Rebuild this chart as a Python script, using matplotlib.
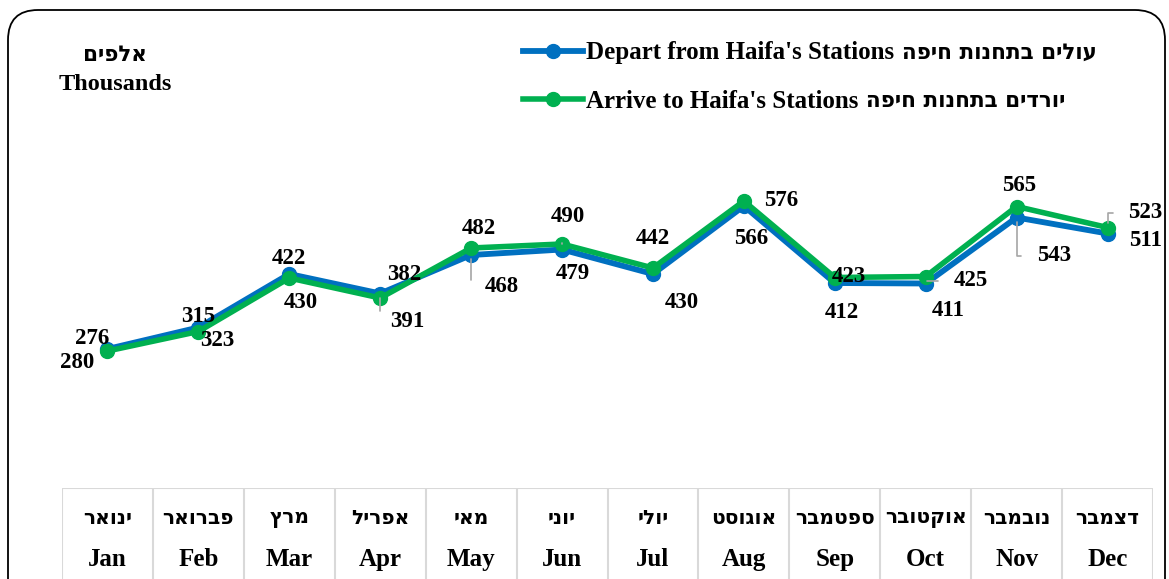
import matplotlib.pyplot as plt
from matplotlib.patches import FancyBboxPatch

plt.rcParams['font.family'] = ['Liberation Serif', 'DejaVu Sans']
plt.rcParams['font.weight'] = 'bold'
HEB = ['DejaVu Sans']

months_en = ["Jan", "Feb", "Mar", "Apr", "May", "Jun",
             "Jul", "Aug", "Sep", "Oct", "Nov", "Dec"]
months_he = ["ינואר", "פברואר", "מרץ", "אפריל", "מאי", "יוני",
             "יולי", "אוגוסט", "ספטמבר", "אוקטובר", "נובמבר", "דצמבר"]
depart = [280, 323, 430, 391, 468, 479, 430, 566, 412, 411, 543, 511]
arrive = [276, 315, 422, 382, 482, 490, 442, 576, 423, 425, 565, 523]
depart_name = ("Depart from Haifa's Stations", "עולים בתחנות חיפה")
arrive_name = ("Arrive to Haifa's Stations", "יורדים בתחנות חיפה")

# label offsets in pixels (dx, dy) and whether a leader line is drawn
depart_off = [(-30, -14), (19, -13), (12, -28), (27, -28), (31, -31), (11, -24),
              (29, -29), (7, -32), (7, -30), (22, -27), (37, -38), (38, -7)]
depart_lead = [0, 0, 0, 1, 1, 0, 0, 0, 0, 0, 1, 0]
arrive_off = [(-15, 12), (0, 15), (0, 19), (24, 23), (8, 19), (6, 27),
              (0, 30), (37, 0), (14, 1), (45, -4), (3, 21), (38, 15)]
arrive_lead = [0, 0, 0, 0, 0, 1, 1, 0, 0, 1, 0, 1]

W, H = 1169, 579
fig = plt.figure(figsize=(W / 100, H / 100), dpi=100)


def vis(s):
    return s[::-1]


border = FancyBboxPatch((0.08, -0.4), 11.57, 6.09,
                        boxstyle="round,pad=0,rounding_size=0.3",
                        transform=fig.dpi_scale_trans, fill=False,
                        edgecolor='black', linewidth=1.3)
fig.patches.append(border)

ax = fig.add_axes([62 / W, 1 - 489 / H, 1091 / W, 350 / H])
ax.set_xlim(-0.5, 11.5)
ax.set_ylim(0, 700)
ax.axis('off')

x = list(range(len(months_en)))
l1, = ax.plot(x, depart, color='#0070C0', lw=4.2, marker='o', ms=10, zorder=3)
l2, = ax.plot(x, arrive, color='#00B050', lw=4, marker='o', ms=10, zorder=4)

for vals, offs, leads in [(depart, depart_off, depart_lead),
                          (arrive, arrive_off, arrive_lead)]:
    for i, v in enumerate(vals):
        ap = None
        if leads[i]:
            ap = dict(arrowstyle='-', color='#a6a6a6', lw=1.2,
                      shrinkA=9, shrinkB=3,
                      connectionstyle='angle,angleA=0,angleB=90,rad=0')
        ax.annotate(str(v), (i, v), xytext=offs[i], textcoords='offset pixels',
                    ha='center', va='center', fontsize=16.5, fontweight='bold',
                    arrowprops=ap, zorder=6)

# legend: English part via legend, Hebrew part placed right after it
leg = fig.legend([l1, l2], [depart_name[0], arrive_name[0]],
                 loc='upper left', bbox_to_anchor=(500 / W, 1 - 19 / H),
                 frameon=False, handlelength=2.4, handletextpad=0.12,
                 labelspacing=1.0, prop={'weight': 'bold', 'size': 18})
fig.canvas.draw()
r = fig.canvas.get_renderer()
for t, name in zip(leg.get_texts(), [depart_name, arrive_name]):
    bb = t.get_window_extent(r)
    fig.text((bb.x1 + 8) / W, (bb.y0 + bb.y1) / 2 / H, vis(name[1]),
             ha='left', va='center', fontsize=15.5, fontweight='bold',
             family=HEB)

fig.text(115 / W, 1 - 55 / H, vis("אלפים"), ha='center', va='center',
         fontsize=15.5, fontweight='bold', family=HEB)
fig.text(115 / W, 1 - 84 / H, "Thousands", ha='center', va='center',
         fontsize=17.5, fontweight='bold')

# month table under the chart
tb = fig.add_axes([62 / W, 0, 1091 / W, (H - 488) / H])
tb.set_xlim(-0.5, 11.5)
tb.set_ylim(0, 1)
tb.axis('off')
tb.axhline(1, color='#d9d9d9', lw=1.5)
for b in range(13):
    tb.axvline(b - 0.5, color='#d9d9d9', lw=1.5)
for i in x:
    tb.text(i, 0.67, vis(months_he[i]), ha='center', va='center',
            fontsize=14.5, fontweight='bold', family=HEB)
    tb.text(i, 0.21, months_en[i], ha='center', va='center',
            fontsize=18, fontweight='bold')

fig.savefig("out.png", dpi=100)
